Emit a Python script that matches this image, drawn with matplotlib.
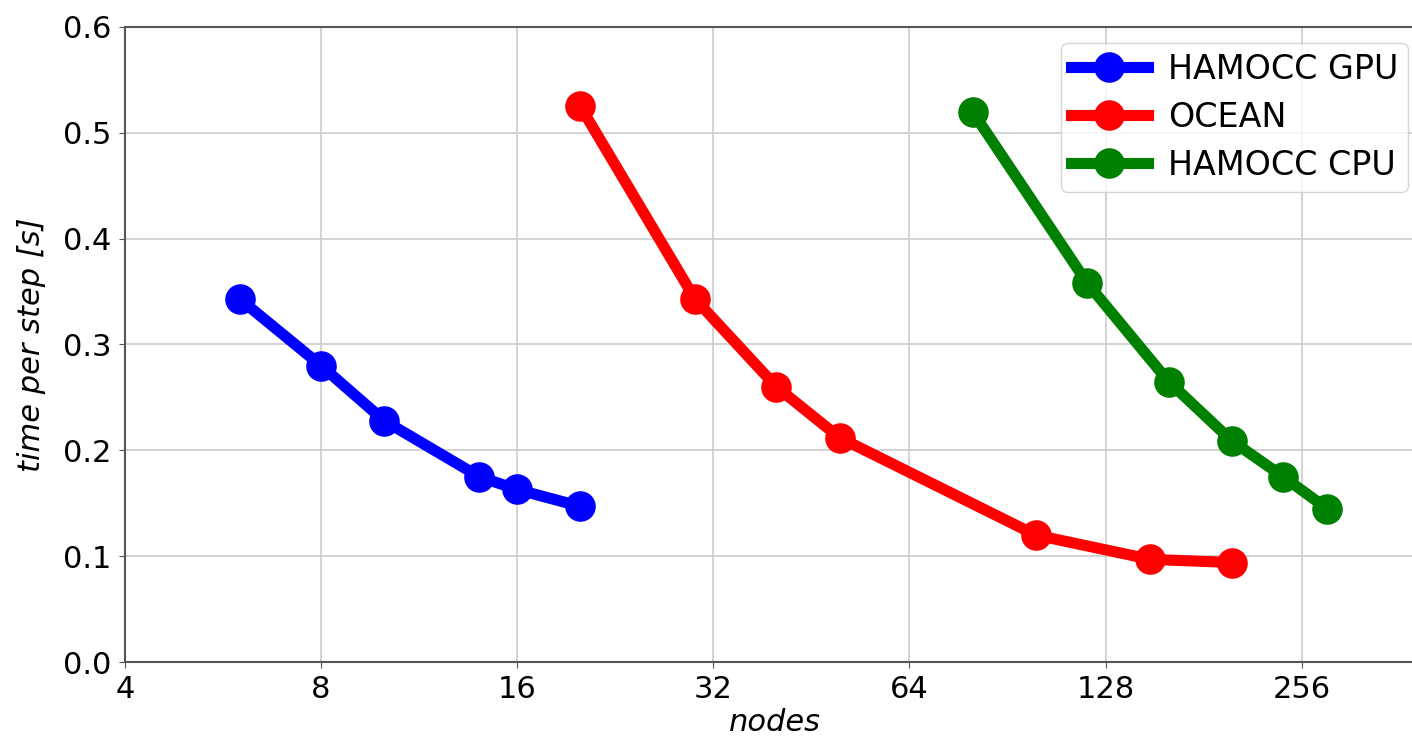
import numpy as np
import matplotlib
matplotlib.use("Agg")
import matplotlib.pyplot as plt
from matplotlib.ticker import FixedLocator, FixedFormatter

# node counts and time per step for each run
gpu_nodes = [6, 8, 10, 14, 16, 20]
gpu_time = [0.343, 0.280, 0.228, 0.175, 0.163, 0.147]

ocean_nodes = [20, 30, 40, 50, 100, 150, 200]
ocean_time = [0.525, 0.343, 0.260, 0.212, 0.120, 0.097, 0.094]

cpu_nodes = [80, 120, 160, 200, 240, 280]
cpu_time = [0.520, 0.358, 0.265, 0.209, 0.175, 0.145]

xticks = [4, 8, 16, 32, 64, 128, 256]
yticks = [0.0, 0.1, 0.2, 0.3, 0.4, 0.5, 0.6]

fig = plt.figure(figsize=(14.12, 7.36), dpi=100)
ax = fig.add_axes([125 / 1412, 1 - 662 / 736, (1425 - 125) / 1412, (662 - 27) / 736])

lw = 8
ms = 21
ax.plot(gpu_nodes, gpu_time, '-o', color='blue', lw=lw, ms=ms, label='HAMOCC GPU')
ax.plot(ocean_nodes, ocean_time, '-o', color='red', lw=lw, ms=ms, label='OCEAN')
ax.plot(cpu_nodes, cpu_time, '-o', color='green', lw=lw, ms=ms, label='HAMOCC CPU')

ax.set_xscale('log', base=2)
ax.set_xlim(4, 4 * 2 ** ((1425 - 125) / 196.1))
ax.set_ylim(0, 0.6)
ax.xaxis.set_major_locator(FixedLocator(xticks))
ax.xaxis.set_major_formatter(FixedFormatter([str(t) for t in xticks]))
ax.xaxis.set_minor_locator(FixedLocator([]))
ax.set_yticks(yticks)
ax.set_yticklabels(['%.1f' % t for t in yticks])
ax.tick_params(labelsize=22, length=4, color='#555555')
ax.tick_params(axis='y', pad=6)
ax.tick_params(axis='x', pad=5)
ax.grid(True, color='#cccccc', lw=1.2)
for s in ax.spines.values():
    s.set_color('#555555')
    s.set_linewidth(1.5)

# keep the label just inside the bottom edge
ax.set_xlabel('nodes', fontsize=22, style='italic', labelpad=3)
ax.set_ylabel('time per step [s]', fontsize=22, style='italic', labelpad=12)

ax.legend(loc='upper right', bbox_to_anchor=(1408 / 1412, 1 - 43 / 736), bbox_transform=fig.transFigure,
          borderaxespad=0, fontsize=24, handlelength=2.3, borderpad=0.3, labelspacing=0.45,
          handletextpad=0.6, framealpha=0.8)

fig.savefig('out.png', dpi=100)
